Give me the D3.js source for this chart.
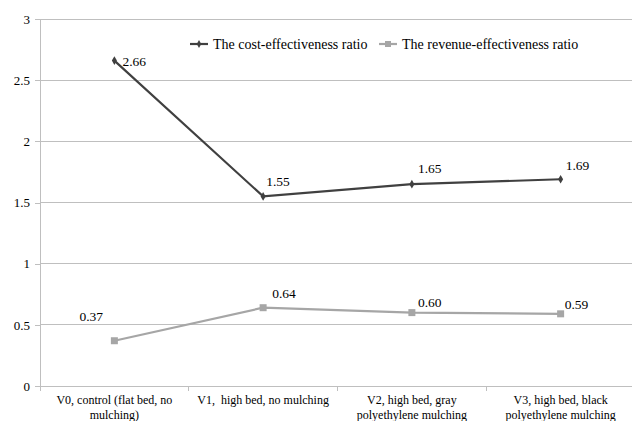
<!DOCTYPE html>
<html><head><meta charset="utf-8">
<script src="https://cdn.jsdelivr.net/npm/d3@7"></script>
<style>body{margin:0;background:#fff} text{font-family:"Liberation Serif","DejaVu Serif","Times New Roman",serif !important}</style>
</head><body><svg id="c" width="632" height="421"></svg>
<script>
const categories = [["V0, control (flat bed, no","mulching)"],["V1,  high bed, no mulching"],["V2, high bed, gray","polyethylene mulching"],["V3, high bed, black","polyethylene mulching"]];
const costRatio = [2.66, 1.55, 1.65, 1.69];
const revenueRatio = [0.37, 0.64, 0.60, 0.59];
const yTicks = [0, 0.5, 1, 1.5, 2, 2.5, 3];
const seriesNames = ["The cost-effectiveness ratio", "The revenue-effectiveness ratio"];

const svg = d3.select("#c");
const L = 40, R = 635, T = 19, B = 386;
const x = d3.scaleBand().domain(d3.range(categories.length)).range([L, R]);
const y = d3.scaleLinear().domain([0, 3]).range([B, T]);

// gridlines
svg.append("g").selectAll("line").data(yTicks.filter(d=>d>0)).join("line")
  .attr("x1", L).attr("x2", R).attr("y1", d=>y(d)).attr("y2", d=>y(d))
  .attr("stroke", "#bfbfbf").attr("stroke-width", 1).attr("shape-rendering","crispEdges");

// y axis
const ya = svg.append("g").attr("transform", `translate(${L},0)`)
  .call(d3.axisLeft(y).tickValues(yTicks).tickFormat(d3.format("")).tickSize(5).tickPadding(5));
ya.attr("font-family", null);
ya.select(".domain").attr("stroke", "#bfbfbf").attr("shape-rendering","crispEdges");
ya.selectAll(".tick line").attr("stroke", "#bfbfbf").attr("shape-rendering","crispEdges");
ya.selectAll("text").attr("font-size", 13).attr("fill", "#000");

// x axis
const xa = svg.append("g").attr("transform", `translate(0,${B})`);
xa.append("line").attr("x1", L).attr("x2", R).attr("stroke", "#bfbfbf").attr("shape-rendering","crispEdges");
xa.selectAll(".tk").data(d3.range(categories.length + 1)).join("line")
  .attr("x1", i => L + i * x.bandwidth()).attr("x2", i => L + i * x.bandwidth())
  .attr("y1", 0).attr("y2", 5).attr("stroke", "#bfbfbf").attr("shape-rendering","crispEdges");
categories.forEach((lines, i) => {
  const t = xa.append("text").attr("text-anchor", "middle").attr("font-size", 12).attr("fill", "#000")
    .attr("x", x(i) + x.bandwidth() / 2).attr("y", 18);
  lines.forEach((ln, k) => t.append("tspan").attr("x", x(i) + x.bandwidth() / 2).attr("dy", k ? 15 : 0)
    .attr("xml:space","preserve").text(ln));
});

const cx = i => x(i) + x.bandwidth() / 2;
const line = d3.line().x((d, i) => cx(i)).y(d => y(d));
const darkC = "#404040", lightC = "#a6a6a6";

svg.append("path").datum(costRatio).attr("d", line).attr("fill", "none").attr("stroke", darkC).attr("stroke-width", 2.2);
svg.append("path").datum(revenueRatio).attr("d", line).attr("fill", "none").attr("stroke", lightC).attr("stroke-width", 2.2);

// markers
svg.append("g").selectAll("path").data(costRatio).join("path")
  .attr("d", d3.symbol(d3.symbolDiamond, 22)).attr("transform", (d, i) => `translate(${cx(i)},${y(d)})`).attr("fill", darkC);
svg.append("g").selectAll("rect").data(revenueRatio).join("rect")
  .attr("x", (d, i) => cx(i) - 3.5).attr("y", d => y(d) - 3.5).attr("width", 7).attr("height", 7).attr("fill", lightC);

// labels
const costOff = [[8, 5], [3, -10], [6, -11], [5, -9]];
const revOff = [[-35, -20], [9, -10], [6, -6], [4, -5]];
svg.append("g").selectAll("text").data(costRatio).join("text")
  .attr("x", (d, i) => cx(i) + costOff[i][0]).attr("y", (d, i) => y(d) + costOff[i][1])
  .attr("font-size", 13.5).attr("fill", "#000").text(d => d.toFixed(2));
svg.append("g").selectAll("text").data(revenueRatio).join("text")
  .attr("x", (d, i) => cx(i) + revOff[i][0]).attr("y", (d, i) => y(d) + revOff[i][1])
  .attr("font-size", 13.5).attr("fill", "#000").text(d => d.toFixed(2));

// legend
const lg = svg.append("g");
const legX = [190, 379], legY = 44;
[[darkC, "d"], [lightC, "s"]].forEach(([c, m], k) => {
  lg.append("line").attr("x1", legX[k]).attr("x2", legX[k] + 18).attr("y1", legY).attr("y2", legY).attr("stroke", c).attr("stroke-width", 2.2);
  if (m === "d") lg.append("path").attr("d", d3.symbol(d3.symbolDiamond, 18)).attr("transform", `translate(${legX[k]+9},${legY})`).attr("fill", c);
  else lg.append("rect").attr("x", legX[k] + 6).attr("y", legY - 3).attr("width", 6).attr("height", 6).attr("fill", c);
  lg.append("text").attr("x", legX[k] + 23).attr("y", legY + 5).attr("font-size", 14).attr("fill", "#000").text(seriesNames[k]);
});
</script></body></html>
